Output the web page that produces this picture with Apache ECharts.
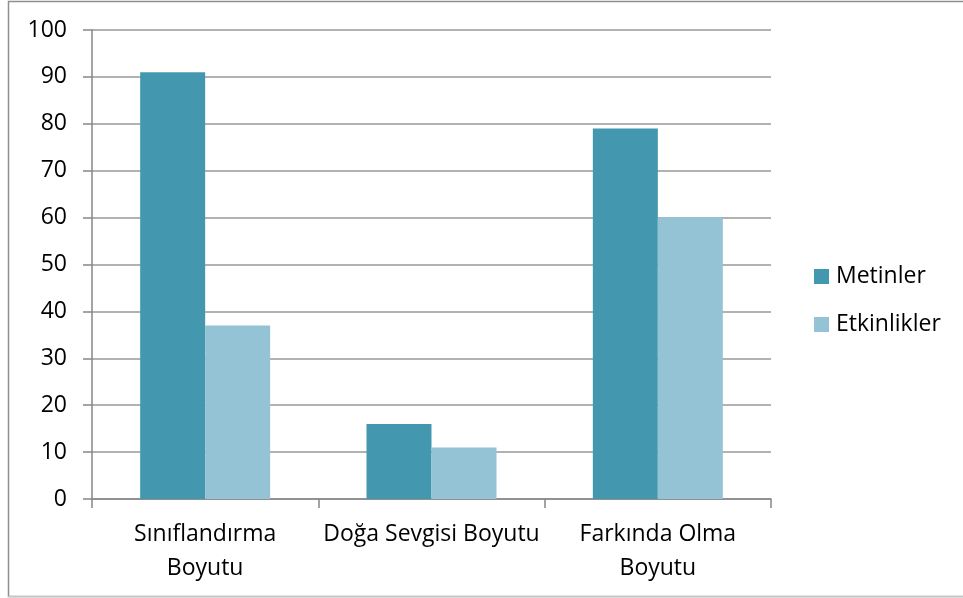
<!DOCTYPE html>
<html><head><meta charset="utf-8">
<script src="https://cdn.jsdelivr.net/npm/echarts@6/dist/echarts.min.js"></script>
<style>html,body{margin:0;padding:0;background:#fff}#c{width:963px;height:598px}</style>
</head><body><div id="c"></div>
<script>
const categories = ['Sınıflandırma\nBoyutu', 'Doğa Sevgisi Boyutu', 'Farkında Olma\nBoyutu'];
const metinler = [91, 16, 79];
const etkinlikler = [37, 11, 60];
const yTicks = [0, 10, 20, 30, 40, 50, 60, 70, 80, 90, 100];
const font = 'Open Sans';
const chart = echarts.init(document.getElementById('c'));
chart.setOption({
  animation: false,
  backgroundColor: '#fff',
  textStyle: {fontFamily: font},
  graphic: [{type: 'rect', shape: {x: 8.5, y: 1.5, width: 970, height: 595}, style: {fill: 'none', stroke: '#8f8f8f', lineWidth: 1.5}, z: -1},
            {type: 'line', shape: {x1: 8, y1: 597, x2: 963, y2: 597}, style: {stroke: '#d9d9d9', lineWidth: 1.5}}],
  grid: {left: 92, right: 192, top: 30, bottom: 99, containLabel: false},
  legend: {
    orient: 'vertical', left: 814, top: 265, padding: 0, itemWidth: 15, itemHeight: 15, itemGap: 25,
    icon: 'rect',
    textStyle: {fontFamily: font, fontSize: 23, color: '#000', padding: [0, 0, 0, 2]},
    data: ['Metinler', 'Etkinlikler']
  },
  xAxis: {
    type: 'category', data: categories,
    axisLine: {lineStyle: {color: '#868686', width: 1.5}},
    axisTick: {show: true, length: 9, lineStyle: {color: '#868686', width: 1.5}},
    axisLabel: {interval: 0, fontFamily: font, fontSize: 23, color: '#000', margin: 18, lineHeight: 34}
  },
  yAxis: {
    type: 'value', min: 0, max: 100, interval: 10,
    axisLine: {show: true, lineStyle: {color: '#868686', width: 1.5}},
    axisTick: {show: true, length: 9, lineStyle: {color: '#868686', width: 1.5}},
    splitLine: {lineStyle: {color: '#999', width: 1.5}},
    axisLabel: {fontFamily: font, fontSize: 23, color: '#000', margin: 25,
      formatter: v => yTicks.includes(v) ? String(v) : ''}
  },
  series: [
    {name: 'Metinler', type: 'bar', data: metinler, barWidth: 65, barGap: '0%',
     itemStyle: {color: '#4398AF'}},
    {name: 'Etkinlikler', type: 'bar', data: etkinlikler, barWidth: 65, barGap: '0%',
     itemStyle: {color: '#93C3D4'}}
  ]
});
</script></body></html>
